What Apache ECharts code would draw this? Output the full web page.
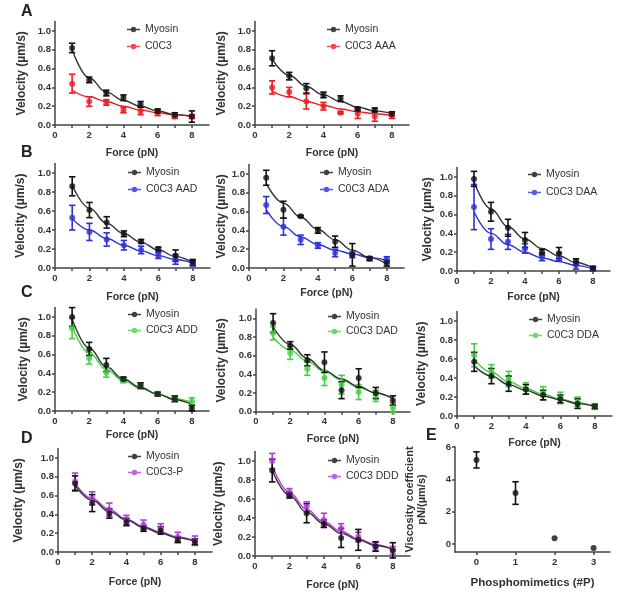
<!DOCTYPE html>
<html><head><meta charset="utf-8">
<script src="https://cdn.jsdelivr.net/npm/echarts/dist/echarts.min.js"></script>
<style>html,body{margin:0;padding:0;background:#fff}#c{width:617px;height:600px}</style>
</head><body><div id="c"></div>
<script>
// ---------- data ----------
const force = [1, 2, 3, 4, 5, 6, 7, 8];
const forceTicks = [0, 2, 4, 6, 8];
const forceMinor = [0, 1, 2, 3, 4, 5, 6, 7, 8];
const velocityTicks = [0, 0.2, 0.4, 0.6, 0.8, 1.0];

const A1_myo = [0.82, 0.48, 0.34, 0.29, 0.22, 0.15, 0.11, 0.09];
const A1_myo_err = [0.05, 0.03, 0.03, 0.03, 0.03, 0.02, 0.02, 0.06];
const A1_myo_fit = [0.80, 0.50, 0.35, 0.26, 0.20, 0.15, 0.11, 0.09];
const A1_mut = [0.44, 0.25, 0.24, 0.16, 0.15, 0.13, 0.09, 0.09];
const A1_mut_err = [0.10, 0.05, 0.03, 0.03, 0.04, 0.03, 0.02, 0.02];
const A1_mut_fit = [0.37, 0.30, 0.25, 0.20, 0.16, 0.13, 0.11, 0.09];

const A2_myo = [0.71, 0.52, 0.39, 0.32, 0.28, 0.17, 0.16, 0.12];
const A2_myo_err = [0.08, 0.04, 0.05, 0.03, 0.03, 0.02, 0.02, 0.02];
const A2_myo_fit = [0.70, 0.53, 0.41, 0.32, 0.25, 0.19, 0.15, 0.12];
const A2_mut = [0.40, 0.35, 0.25, 0.20, 0.13, 0.12, 0.09, 0.10];
const A2_mut_err = [0.07, 0.05, 0.08, 0.04, 0.01, 0.05, 0.05, 0.03];
const A2_mut_fit = [0.36, 0.30, 0.25, 0.21, 0.17, 0.14, 0.12, 0.10];

const B1_myo = [0.86, 0.61, 0.48, 0.36, 0.28, 0.20, 0.13, 0.06];
const B1_myo_err = [0.10, 0.08, 0.06, 0.03, 0.02, 0.02, 0.06, 0.03];
const B1_myo_fit = [0.87, 0.63, 0.47, 0.36, 0.27, 0.19, 0.12, 0.06];
const B1_mut = [0.53, 0.38, 0.30, 0.24, 0.19, 0.13, 0.09, 0.05];
const B1_mut_err = [0.13, 0.09, 0.07, 0.05, 0.04, 0.03, 0.05, 0.03];
const B1_mut_fit = [0.52, 0.40, 0.31, 0.24, 0.18, 0.13, 0.09, 0.05];

const B2_myo = [0.96, 0.62, 0.55, 0.40, 0.28, 0.14, 0.10, 0.05];
const B2_myo_err = [0.08, 0.09, 0.01, 0.03, 0.06, 0.12, 0.02, 0.03];
const B2_myo_fit = [0.90, 0.69, 0.54, 0.41, 0.30, 0.19, 0.11, 0.04];
const B2_mut = [0.67, 0.44, 0.30, 0.24, 0.16, 0.14, 0.10, 0.09];
const B2_mut_err = [0.09, 0.09, 0.05, 0.03, 0.04, 0.03, 0.02, 0.03];
const B2_mut_fit = [0.62, 0.44, 0.33, 0.25, 0.19, 0.15, 0.11, 0.08];

const B3_myo = [0.98, 0.63, 0.46, 0.33, 0.20, 0.19, 0.10, 0.03];
const B3_myo_err = [0.08, 0.10, 0.09, 0.08, 0.03, 0.06, 0.03, 0.02];
const B3_myo_fit = [0.95, 0.66, 0.47, 0.34, 0.24, 0.16, 0.09, 0.03];
const B3_mut = [0.68, 0.34, 0.31, 0.24, 0.15, 0.15, 0.06, 0.02];
const B3_mut_err = [0.24, 0.11, 0.08, 0.05, 0.04, 0.04, 0.04, 0.02];
const B3_mut_fit = [0.63, 0.40, 0.28, 0.20, 0.14, 0.10, 0.06, 0.02];

const C1_myo = [1.00, 0.66, 0.49, 0.34, 0.27, 0.18, 0.13, 0.03];
const C1_myo_err = [0.10, 0.07, 0.07, 0.02, 0.03, 0.02, 0.03, 0.03];
const C1_myo_fit = [0.98, 0.67, 0.47, 0.34, 0.25, 0.18, 0.12, 0.07];
const C1_mut = [0.88, 0.56, 0.41, 0.33, 0.27, 0.18, 0.13, 0.10];
const C1_mut_err = [0.11, 0.06, 0.05, 0.03, 0.03, 0.02, 0.03, 0.04];
const C1_mut_fit = [0.90, 0.62, 0.44, 0.32, 0.24, 0.18, 0.13, 0.09];

const C2_myo = [0.95, 0.71, 0.55, 0.53, 0.23, 0.36, 0.20, 0.12];
const C2_myo_err = [0.10, 0.04, 0.06, 0.11, 0.09, 0.10, 0.06, 0.05];
const C2_myo_fit = [0.91, 0.72, 0.57, 0.44, 0.35, 0.27, 0.20, 0.14];
const C2_mut = [0.84, 0.63, 0.46, 0.36, 0.29, 0.21, 0.17, 0.04];
const C2_mut_err = [0.07, 0.07, 0.07, 0.08, 0.10, 0.08, 0.06, 0.05];
const C2_mut_fit = [0.80, 0.66, 0.54, 0.43, 0.34, 0.26, 0.20, 0.14];

const C3_myo = [0.57, 0.42, 0.34, 0.28, 0.22, 0.18, 0.13, 0.10];
const C3_myo_err = [0.10, 0.08, 0.08, 0.05, 0.05, 0.04, 0.05, 0.02];
const C3_myo_fit = [0.53, 0.42, 0.33, 0.27, 0.21, 0.17, 0.13, 0.10];
const C3_mut = [0.64, 0.47, 0.39, 0.29, 0.24, 0.19, 0.15, 0.10];
const C3_mut_err = [0.12, 0.07, 0.08, 0.06, 0.07, 0.06, 0.05, 0.03];
const C3_mut_fit = [0.60, 0.46, 0.36, 0.29, 0.23, 0.18, 0.14, 0.10];

const D1_myo = [0.73, 0.52, 0.41, 0.32, 0.25, 0.23, 0.13, 0.11];
const D1_myo_err = [0.08, 0.09, 0.05, 0.04, 0.03, 0.04, 0.03, 0.03];
const D1_myo_fit = [0.71, 0.55, 0.43, 0.34, 0.26, 0.20, 0.15, 0.11];
const D1_mut = [0.75, 0.57, 0.45, 0.34, 0.29, 0.25, 0.16, 0.12];
const D1_mut_err = [0.09, 0.07, 0.07, 0.05, 0.05, 0.05, 0.05, 0.05];
const D1_mut_fit = [0.73, 0.57, 0.45, 0.35, 0.27, 0.21, 0.16, 0.12];

const D2_myo = [0.90, 0.64, 0.45, 0.34, 0.19, 0.17, 0.10, 0.06];
const D2_myo_err = [0.12, 0.03, 0.10, 0.04, 0.10, 0.11, 0.05, 0.08];
const D2_myo_fit = [0.90, 0.64, 0.46, 0.34, 0.24, 0.17, 0.11, 0.07];
const D2_mut = [1.00, 0.67, 0.52, 0.38, 0.29, 0.20, 0.10, 0.06];
const D2_mut_err = [0.08, 0.04, 0.05, 0.07, 0.05, 0.05, 0.04, 0.04];
const D2_mut_fit = [0.95, 0.67, 0.49, 0.36, 0.26, 0.18, 0.12, 0.07];

const phosphoCount = [0, 1, 2, 3];
const viscosity = [5.2, 3.15, 0.35, -0.25];
const viscosityErr = [0.5, 0.7, 0, 0];
const viscosityTicks = [0, 2, 4, 6];

// ---------- styling ----------
const FONT = 'Arial, "Liberation Sans", sans-serif';
const TXT = '#333';
const AX = '#444';
const C_MYO = '#111111', C_MYO_FIT = '#333333';
const C_RED = '#ec1c24', C_BLUE = '#2f2fd8', C_GREEN = '#44d044', C_PURPLE = '#b53ad8';

const panels = [
  {myo:[A1_myo,A1_myo_err,A1_myo_fit], mut:[A1_mut,A1_mut_err,A1_mut_fit], name:'C0C3', color:C_RED,
   grid:[55,21.6,154,103.4], legend:[127,24,6], yGap:27, xGap:23},
  {myo:[A2_myo,A2_myo_err,A2_myo_fit], mut:[A2_mut,A2_mut_err,A2_mut_fit], name:'C0C3 AAA', color:C_RED,
   grid:[255,21.6,154,103.4], legend:[327,24,6], yGap:27, xGap:23},
  {myo:[B1_myo,B1_myo_err,B1_myo_fit], mut:[B1_mut,B1_mut_err,B1_mut_fit], name:'C0C3 AAD', color:C_BLUE,
   grid:[55,163.5,155,104.5], legend:[128,167,6], yGap:28, xGap:24},
  {myo:[B2_myo,B2_myo_err,B2_myo_fit], mut:[B2_mut,B2_mut_err,B2_mut_fit], name:'C0C3 ADA', color:C_BLUE,
   grid:[249,164.6,155,103.4], legend:[320,167,6], yGap:21, xGap:20},
  {myo:[B3_myo,B3_myo_err,B3_myo_fit], mut:[B3_mut,B3_mut_err,B3_mut_fit], name:'C0C3 DAA', color:C_BLUE,
   grid:[457,167.6,153,103.4], legend:[528,169,7], yGap:23, xGap:21},
  {myo:[C1_myo,C1_myo_err,C1_myo_fit], mut:[C1_mut,C1_mut_err,C1_mut_fit], name:'C0C3 ADD', color:C_GREEN,
   grid:[55,307.6,154,103.4], legend:[128,309,5], yGap:25, xGap:19},
  {myo:[C2_myo,C2_myo_err,C2_myo_fit], mut:[C2_mut,C2_mut_err,C2_mut_fit], name:'C0C3 DAD', color:C_GREEN,
   grid:[256,309,154,102.7], legend:[328,311,4], yGap:28, xGap:22},
  {myo:[C3_myo,C3_myo_err,C3_myo_fit], mut:[C3_mut,C3_mut_err,C3_mut_fit], name:'C0C3 DDA', color:C_GREEN,
   grid:[457,311.5,155,104.5], legend:[529,314,5], yGap:29, xGap:22},
  {myo:[D1_myo,D1_myo_err,D1_myo_fit], mut:[D1_mut,D1_mut_err,D1_mut_fit], name:'C0C3-P', color:C_PURPLE,
   grid:[58,448.6,154,103.4], legend:[128,451,5], yGap:33, xGap:25},
  {myo:[D2_myo,D2_myo_err,D2_myo_fit], mut:[D2_mut,D2_mut_err,D2_mut_fit], name:'C0C3 DDD', color:C_PURPLE,
   grid:[255,451.5,155,104.5], legend:[328,455,5], yGap:30, xGap:24}
];

const ICON = 'path://M0,2.3H4.1V3.7H0Z M8.9,2.3H13V3.7H8.9Z M3.8,3A2.7,2.7 0 1 1 9.2,3A2.7,2.7 0 1 1 3.8,3Z';

function errRender(color) {
  return function (params, api) {
    const x = api.value(0), y = api.value(1), e = api.value(2);
    if (!e) return null;
    const t = api.coord([x, y + e]), b = api.coord([x, y - e]);
    const cap = 3.2;
    const st = {stroke: color, lineWidth: 1.6, fill: null};
    return {type: 'group', children: [
      {type: 'line', shape: {x1: t[0], y1: t[1], x2: b[0], y2: b[1]}, style: st},
      {type: 'line', shape: {x1: t[0] - cap, y1: t[1], x2: t[0] + cap, y2: t[1]}, style: st},
      {type: 'line', shape: {x1: b[0] - cap, y1: b[1], x2: b[0] + cap, y2: b[1]}, style: st}
    ]};
  };
}

const grids = [], xAxes = [], yAxes = [], series = [], legends = [];
const lineSt = {color: AX, width: 1.5};
const tickLbl = {fontSize: 9.5, fontWeight: 'bold', color: TXT, fontFamily: FONT};
const xNameSt = {fontSize: 10.5, fontWeight: 'bold', color: TXT, fontFamily: FONT};
const yNameSt = {fontSize: 12, fontWeight: 'bold', color: TXT, fontFamily: FONT};

function addGroup(i, vals, color, fitColor, name) {
  const [mean, err, fit] = vals;
  series.push({type: 'line', xAxisIndex: i, yAxisIndex: i, silent: true, smooth: 0.4, smoothMonotone: 'x',
    symbol: 'none', lineStyle: {color: fitColor, width: 1.4}, data: force.map((f, k) => [f, fit[k]]), z: 2});
  series.push({type: 'custom', xAxisIndex: i, yAxisIndex: i, silent: true, renderItem: errRender(color),
    encode: {x: 0, y: 1}, data: force.map((f, k) => [f, mean[k], err[k]]), z: 3});
  series.push({type: 'scatter', name: name, xAxisIndex: i, yAxisIndex: i, symbol: 'circle', symbolSize: 6,
    itemStyle: {color: color}, data: force.map((f, k) => [f, mean[k]]), z: 4});
}

panels.forEach((p, i) => {
  grids.push({left: p.grid[0], top: p.grid[1], width: p.grid[2], height: p.grid[3]});
  xAxes.push({gridIndex: i, type: 'value', min: 0, max: 9,
    axisLine: {onZero: false, lineStyle: lineSt},
    axisTick: {customValues: forceMinor, length: 3, lineStyle: lineSt},
    axisLabel: Object.assign({customValues: forceTicks, margin: 5}, tickLbl),
    splitLine: {show: false},
    name: 'Force (pN)', nameLocation: 'middle', nameGap: p.xGap, nameTextStyle: xNameSt});
  yAxes.push({gridIndex: i, type: 'value', min: 0, max: 1.1,
    axisLine: {show: true, onZero: false, lineStyle: lineSt},
    axisTick: {show: true, customValues: velocityTicks, length: 3, lineStyle: lineSt},
    axisLabel: Object.assign({customValues: velocityTicks, margin: 4, formatter: v => v.toFixed(1)}, tickLbl),
    splitLine: {show: false},
    name: 'Velocity (µm/s)', nameLocation: 'middle', nameGap: p.yGap, nameRotate: 90, nameTextStyle: yNameSt});
  addGroup(i, p.mut, p.color, p.color, p.name);
  addGroup(i, p.myo, C_MYO, C_MYO_FIT, 'Myosin');
  legends.push({orient: 'vertical', left: p.legend[0], top: p.legend[1], itemGap: p.legend[2], padding: 0,
    itemWidth: 13, itemHeight: 6, selectedMode: false,
    textStyle: {fontSize: 10.5, color: TXT, fontFamily: FONT},
    data: [{name: 'Myosin', icon: ICON}, {name: p.name, icon: ICON}]});
});

// Panel E
const ei = panels.length;
grids.push({left: 455, top: 447, width: 155, height: 105});
xAxes.push({gridIndex: ei, type: 'value', min: -0.55, max: 3.42,
  axisLine: {onZero: false, lineStyle: lineSt},
  axisTick: {customValues: phosphoCount, length: 3, lineStyle: lineSt},
  axisLabel: Object.assign({customValues: phosphoCount, margin: 5}, tickLbl),
  splitLine: {show: false},
  name: 'Phosphomimetics (#P)', nameLocation: 'middle', nameGap: 25,
  nameTextStyle: Object.assign({}, xNameSt, {fontSize: 11.5})});
yAxes.push({gridIndex: ei, type: 'value', min: -0.5, max: 6,
  axisLine: {show: true, onZero: false, lineStyle: lineSt},
  axisTick: {show: true, customValues: viscosityTicks, length: 3, lineStyle: lineSt},
  axisLabel: Object.assign({customValues: viscosityTicks, margin: 4}, tickLbl),
  splitLine: {show: false},
  name: 'Viscosity coefficient\npN/(µm/s)', nameLocation: 'middle', nameGap: 27, nameRotate: 90,
  nameTextStyle: Object.assign({}, yNameSt, {fontSize: 11, lineHeight: 12})});
series.push({type: 'custom', xAxisIndex: ei, yAxisIndex: ei, silent: true, renderItem: errRender(C_MYO),
  encode: {x: 0, y: 1}, data: phosphoCount.map((c, k) => [c, viscosity[k], viscosityErr[k]]), z: 3});
series.push({type: 'scatter', name: 'viscosity', xAxisIndex: ei, yAxisIndex: ei, symbolSize: 6,
  itemStyle: {color: C_MYO}, data: phosphoCount.map((c, k) => [c, viscosity[k]]), z: 4});

const letterSt = {font: 'bold 16px ' + FONT, fill: '#222'};
const chart = echarts.init(document.getElementById('c'), null, {renderer: 'canvas'});
chart.setOption({
  backgroundColor: '#fff',
  animation: false,
  grid: grids, xAxis: xAxes, yAxis: yAxes, series: series, legend: legends,
  graphic: [
    {type: 'text', left: 21, top: 4, style: Object.assign({text: 'A'}, letterSt)},
    {type: 'text', left: 21, top: 145, style: Object.assign({text: 'B'}, letterSt)},
    {type: 'text', left: 21, top: 285, style: Object.assign({text: 'C'}, letterSt)},
    {type: 'text', left: 21, top: 431, style: Object.assign({text: 'D'}, letterSt)},
    {type: 'text', left: 426, top: 428, style: Object.assign({text: 'E'}, letterSt)}
  ]
});
</script></body></html>
